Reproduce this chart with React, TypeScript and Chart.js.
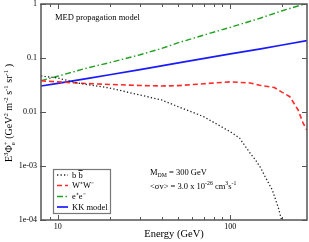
import { useEffect, useRef } from 'react';
import { Chart, registerables } from 'chart.js';

Chart.register(...registerables);

const SERIF = '"Liberation Serif", "Times New Roman", serif';

// ---- data ----
const bbEnergy = [8, 10, 13, 20, 30, 40, 50, 70, 100, 113, 130, 140, 150, 160, 175, 190, 198, 205];
const bbFlux = [0.0464, 0.0426, 0.0344, 0.0278, 0.0206, 0.0167, 0.0125, 0.0082, 0.0043, 0.0033, 0.00174, 0.00129, 0.00092, 0.00061, 0.00036, 0.000166, 0.0001, 0.00006];

const wwEnergy = [8, 10, 12, 15, 20, 25, 30, 40, 50, 70, 100, 130, 150, 180, 200, 221, 247, 264, 278];
const wwFlux = [0.0378, 0.0362, 0.0349, 0.0336, 0.0324, 0.0316, 0.031, 0.0303, 0.0308, 0.0333, 0.0362, 0.0345, 0.031, 0.0284, 0.0231, 0.0192, 0.0109, 0.0062, 0.0046];

const eeEnergy = [8, 10, 15, 20, 30, 40, 50, 70, 100, 150, 200, 250, 278];
const eeFlux = [0.038, 0.046, 0.066, 0.082, 0.115, 0.15, 0.192, 0.265, 0.37, 0.55, 0.75, 0.93, 1.03];

const kkEnergy = [8, 10, 15, 20, 30, 50, 100, 150, 200, 278];
const kkFlux = [0.0303, 0.034, 0.042, 0.049, 0.061, 0.081, 0.119, 0.148, 0.174, 0.209];

const seriesLabels = ['b b', 'W\u207AW\u207B', 'e\u207Ae\u207B', 'KK model'];
// series whose last character carries an over-bar (antiparticle)
const overbarLast = [true, false, false, false];

const xMin = 8;
const xMax = 278;
const yMin = 1e-4;
const yMax = 1;

const xTickValues = [9, 10, 20, 30, 40, 50, 60, 70, 80, 90, 100, 200];
const xTickLabels = ['', '10', '', '', '', '', '', '', '', '', '100', ''];
const xMajorTicks = [10, 100];

const yTickValues = [1, 0.1, 0.01, 0.001, 0.0001];
const yTickLabels = ['1', '0.1', '0.01', '1e-03', '1e-04'];

const titleText = 'MED propagation model';
const xTitle = 'Energy (GeV)';

type Part = { t: string; sup?: boolean; sub?: boolean; noAdv?: boolean };

const yTitleParts: Part[] = [
  { t: 'E' }, { t: '3', sup: true }, { t: '\u03A6' }, { t: 'e', sub: true, noAdv: true }, { t: '+', sup: true },
  { t: ' (GeV' }, { t: '2', sup: true }, { t: ' m' }, { t: '-2', sup: true }, { t: ' s' }, { t: '-1', sup: true },
  { t: ' sr' }, { t: '-1', sup: true }, { t: ' )' },
];

const annot1: Part[] = [{ t: 'M' }, { t: 'DM', sub: true }, { t: ' = 300 GeV' }];
const annot2: Part[] = [
  { t: '<\u03C3v> = 3.0 x 10' }, { t: '-26', sup: true }, { t: ' cm' }, { t: '3', sup: true }, { t: 's' }, { t: '-1', sup: true },
];

function toPoints(xs: number[], ys: number[]) {
  return xs.map((x, i) => ({ x, y: ys[i] }));
}

function richWidth(ctx: CanvasRenderingContext2D, parts: Part[], size: number) {
  let w = 0;
  let pending = 0;
  for (const p of parts) {
    const s = p.sup || p.sub ? size * 0.68 : size;
    ctx.font = `${s}px ${SERIF}`;
    const pw = ctx.measureText(p.t).width;
    if (p.noAdv) {
      pending = pw;
      continue;
    }
    w += Math.max(pw, pending);
    pending = 0;
  }
  return w + pending;
}

function drawRich(ctx: CanvasRenderingContext2D, parts: Part[], x: number, y: number, size: number) {
  let cx = x;
  let pending = 0;
  ctx.textBaseline = 'alphabetic';
  ctx.textAlign = 'left';
  for (const p of parts) {
    const s = p.sup || p.sub ? size * 0.68 : size;
    const dy = p.sup ? -size * 0.42 : p.sub ? size * 0.28 : 0;
    ctx.font = `${s}px ${SERIF}`;
    const pw = ctx.measureText(p.t).width;
    ctx.fillText(p.t, cx, y + dy);
    if (p.noAdv) {
      pending = pw;
      continue;
    }
    cx += Math.max(pw, pending);
    pending = 0;
  }
}

const overlayPlugin = {
  id: 'overlay',
  afterDraw(chart: any) {
    const ctx: CanvasRenderingContext2D = chart.ctx;
    const { left, right, top, bottom } = chart.chartArea;
    const xs = chart.scales.x;
    const ys = chart.scales.y;
    ctx.save();

    // frame
    ctx.strokeStyle = '#555';
    ctx.lineWidth = 1.5;
    ctx.strokeRect(left, top, right - left, bottom - top);

    // x ticks (inside, bottom and top)
    ctx.lineWidth = 1;
    ctx.strokeStyle = '#555';
    for (const v of xTickValues) {
      const px = Math.round(xs.getPixelForValue(v)) + 0.5;
      const len = xMajorTicks.includes(v) ? 5 : 3;
      ctx.beginPath();
      ctx.moveTo(px, bottom);
      ctx.lineTo(px, bottom - len);
      ctx.moveTo(px, top);
      ctx.lineTo(px, top + len);
      ctx.stroke();
    }
    // y ticks (inside, left and right)
    for (const v of yTickValues) {
      const py = Math.round(ys.getPixelForValue(v)) + 0.5;
      ctx.beginPath();
      ctx.moveTo(left - 1, py);
      ctx.lineTo(left + 5, py);
      ctx.moveTo(right, py);
      ctx.lineTo(right - 5, py);
      ctx.stroke();
    }

    ctx.fillStyle = '#000';
    // title
    ctx.font = `8.5px ${SERIF}`;
    ctx.textAlign = 'left';
    ctx.textBaseline = 'middle';
    ctx.fillText(titleText, 55, 18);

    // x title
    ctx.font = `10.5px ${SERIF}`;
    ctx.textAlign = 'center';
    ctx.textBaseline = 'middle';
    ctx.fillText(xTitle, (left + right) / 2, 234);

    // y title (rotated)
    const ySize = 10;
    const yw = richWidth(ctx, yTitleParts, ySize);
    ctx.save();
    ctx.translate(12, 113);
    ctx.rotate(-Math.PI / 2);
    drawRich(ctx, yTitleParts, -yw / 2, 0, ySize);
    ctx.restore();

    // annotation
    drawRich(ctx, annot1, 150, 175, 8.5);
    drawRich(ctx, annot2, 150, 189, 8.5);

    // legend
    const lx = 53.5, ly = 169.5, lw = 57, lh = 44;
    ctx.fillStyle = '#fff';
    ctx.fillRect(lx, ly, lw, lh);
    ctx.strokeStyle = '#777';
    ctx.lineWidth = 1.2;
    ctx.setLineDash([]);
    ctx.strokeRect(lx, ly, lw, lh);
    const rows = [175, 185.5, 196.5, 207];
    chart.data.datasets.forEach((ds: any, i: number) => {
      const ry = rows[i];
      ctx.save();
      ctx.strokeStyle = ds.borderColor;
      ctx.lineWidth = ds.borderWidth;
      ctx.setLineDash(ds.borderDash || []);
      ctx.beginPath();
      ctx.moveTo(57, ry);
      ctx.lineTo(68, ry);
      ctx.stroke();
      ctx.restore();
      ctx.fillStyle = '#000';
      ctx.font = `8.5px ${SERIF}`;
      ctx.textAlign = 'left';
      ctx.textBaseline = 'middle';
      ctx.fillText(ds.label, 72, ry + 0.5);
      if (overbarLast[i]) {
        const full = ctx.measureText(ds.label).width;
        const last = ctx.measureText(ds.label.slice(-1)).width;
        ctx.strokeStyle = '#000';
        ctx.lineWidth = 0.8;
        ctx.beginPath();
        ctx.moveTo(72 + full - last, ry - 4.5);
        ctx.lineTo(72 + full, ry - 4.5);
        ctx.stroke();
      }
    });

    ctx.restore();
  },
};

export default function App() {
  const ref = useRef<HTMLCanvasElement | null>(null);

  useEffect(() => {
    document.body.style.margin = '0';
    const canvas = ref.current;
    if (!canvas) return;
    const chart = new Chart(canvas, {
      type: 'line',
      data: {
        datasets: [
          {
            label: seriesLabels[0],
            data: toPoints(bbEnergy, bbFlux),
            borderColor: '#222',
            borderWidth: 1.3,
            borderDash: [1.3, 2.2],
            pointRadius: 0,
            fill: false,
          },
          {
            label: seriesLabels[1],
            data: toPoints(wwEnergy, wwFlux),
            borderColor: '#ff2a2a',
            borderWidth: 1.6,
            borderDash: [5, 3],
            pointRadius: 0,
            fill: false,
          },
          {
            label: seriesLabels[2],
            data: toPoints(eeEnergy, eeFlux),
            borderColor: '#22a022',
            borderWidth: 1.4,
            borderDash: [6, 2.5, 1.5, 2.5],
            pointRadius: 0,
            fill: false,
          },
          {
            label: seriesLabels[3],
            data: toPoints(kkEnergy, kkFlux),
            borderColor: '#1a1aff',
            borderWidth: 1.7,
            pointRadius: 0,
            fill: false,
          },
        ],
      },
      options: {
        responsive: false,
        animation: false,
        events: [],
        layout: { padding: { top: 4, right: 2, left: 0, bottom: 0 } },
        plugins: { legend: { display: false }, tooltip: { enabled: false } },
        scales: {
          x: {
            type: 'logarithmic',
            min: xMin,
            max: xMax,
            grid: { display: false, drawTicks: false },
            border: { display: false },
            afterBuildTicks: (scale: any) => {
              scale.ticks = xTickValues.map((v) => ({ value: v }));
            },
            afterFit: (scale: any) => {
              scale.height = 22;
              scale.paddingLeft = 0;
              scale.paddingRight = 0;
            },
            ticks: {
              autoSkip: false,
              maxRotation: 0,
              minRotation: 0,
              padding: 2,
              color: '#000',
              font: { family: SERIF, size: 8 },
              callback: (_v: any, i: number) => xTickLabels[i],
            },
          },
          y: {
            type: 'logarithmic',
            min: yMin,
            max: yMax,
            grid: { display: false, drawTicks: false },
            border: { display: false },
            afterBuildTicks: (scale: any) => {
              scale.ticks = yTickValues.map((v) => ({ value: v }));
            },
            afterFit: (scale: any) => {
              scale.width = 41;
              scale.paddingTop = 0;
              scale.paddingBottom = 0;
            },
            ticks: {
              autoSkip: false,
              padding: 4,
              color: '#000',
              font: { family: SERIF, size: 8 },
              callback: (_v: any, i: number) => yTickLabels[i],
            },
          },
        },
      },
      plugins: [overlayPlugin],
    } as any);
    return () => chart.destroy();
  }, []);

  return (
    <div style={{ width: 309, height: 242 }}>
      <canvas ref={ref} width={309} height={242} style={{ display: 'block', width: 309, height: 242 }} />
    </div>
  );
}
